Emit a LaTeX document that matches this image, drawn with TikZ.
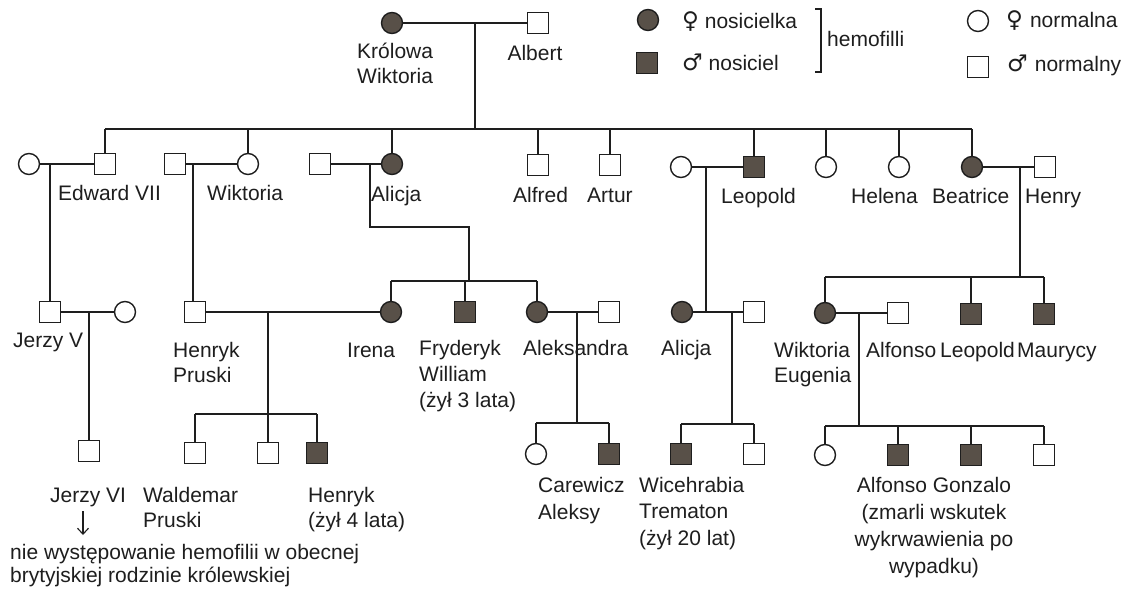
\documentclass[tikz,border=0pt]{standalone}
\usepackage{fontspec}
\setmainfont{Liberation Sans}
\newfontfamily\symfont{DejaVu Sans}
\usetikzlibrary{arrows.meta}
\definecolor{carfill}{RGB}{88,80,72}
\definecolor{ink}{RGB}{30,30,30}
\newcommand{\mlab}[3]{{\fontsize{21}{#1}\selectfont\begin{tabular}[t]{@{}#2@{}}#3\end{tabular}}}
\newcommand{\sexsym}[1]{{\symfont\fontsize{23}{26}\selectfont #1}}
\tikzset{
  male/.style={draw=ink, rectangle, minimum size=20.5pt, inner sep=0pt, line width=1.4pt, fill=white},
  female/.style={draw=ink, circle, minimum size=21pt, inner sep=0pt, line width=1.4pt, fill=white},
  carrier/.style={fill=carfill},
  lbl/.style={inner sep=0pt, text=ink, font=\fontsize{21}{26}\selectfont},
  lnk/.style={draw=ink, line width=1.4pt},
  arr/.style={draw=ink, line width=1.1pt, -{Straight Barb[length=6pt,width=11pt]}}
}
\begin{document}
\begin{tikzpicture}[x=1pt,y=-1pt]
\useasboundingbox[fill=white] (0,0) rectangle (1128,594);

% ---------- generation 1
\node[female,carrier] (qv) at (392,23) {};
\node[male] (alb) at (538,23) {};
\coordinate (m0) at (475,23);
\coordinate (s0) at (475,129);
\node[lbl,anchor=base west] (lqv) at (357,59) {\mlab{25}{l}{Królowa\\Wiktoria}};
\node[lbl,anchor=base] (lalb) at (535,61) {Albert};

% ---------- legend
\node[female,carrier] (lgf) at (648,20) {};
\node[male,carrier] (lgm) at (647,63) {};
\node[lbl,anchor=base west] (tlgf) at (682,29) {\sexsym{♀} nosicielka};
\node[lbl,anchor=base west] (tlgm) at (682,71) {\sexsym{♂} nosiciel};
\coordinate (br1) at (815,9);
\coordinate (br2) at (821,9);
\coordinate (br3) at (821,72);
\coordinate (br4) at (815,72);
\draw[lnk,line width=1.1pt] (br1) -- (br2) -- (br3) -- (br4);
\node[lbl,anchor=base west] (themo) at (827,47) {hemofilli};
\node[female] (lgfn) at (978,21) {};
\node[male] (lgmn) at (978,67) {};
\node[lbl,anchor=base west] (tlgfn) at (1006,28) {\sexsym{♀}\,\,normalna};
\node[lbl,anchor=base west] (tlgmn) at (1007,72) {\sexsym{♂}\,\,normalny};

% ---------- generation 2
\node[female] (ew) at (29,164) {};
\node[male] (ed) at (105,164) {};
\node[male] (wh) at (175,164) {};
\node[female] (wk) at (248,164) {};
\node[male] (ah) at (320,164) {};
\node[female,carrier] (al) at (392,164) {};
\node[male] (af) at (538,165) {};
\node[male] (ar) at (610,165) {};
\node[female] (lw) at (681,167) {};
\node[male,carrier] (lp) at (754,167) {};
\node[female] (un) at (826,167) {};
\node[female] (he) at (899,167) {};
\node[female,carrier] (be) at (972,167) {};
\node[male] (hy) at (1045,167) {};

\node[lbl,anchor=base west] (led) at (58,200) {Edward VII};
\node[lbl,anchor=base west] (lwk) at (207,200) {Wiktoria};
\node[lbl,anchor=base west] (lal) at (371,201) {Alicja};
\node[lbl,anchor=base west] (laf) at (513,202) {Alfred};
\node[lbl,anchor=base west] (lar) at (587,202) {Artur};
\node[lbl,anchor=base west] (llp) at (721,203) {Leopold};
\node[lbl,anchor=base west] (lhe) at (851,203) {Helena};
\node[lbl,anchor=base west] (lbe) at (932,203) {Beatrice};
\node[lbl,anchor=base west] (lhy) at (1025,203) {Henry};

% ---------- generation 3
\node[male] (jv) at (50,312) {};
\node[female] (jvw) at (125,312) {};
\node[male] (hp) at (195,312) {};
\node[female,carrier] (ir) at (391,312) {};
\node[male,carrier] (fw) at (465,312) {};
\node[female,carrier] (ak) at (537,312) {};
\node[male] (akh) at (609,312) {};
\node[female,carrier] (ali) at (682,312) {};
\node[male] (alh) at (754,312) {};
\node[female,carrier] (we) at (825,313) {};
\node[male] (afs) at (898,313) {};
\node[male,carrier] (lp2) at (971,314) {};
\node[male,carrier] (mau) at (1044,314) {};

\node[lbl,anchor=base west] (ljv) at (13,347) {Jerzy V};
\node[lbl,anchor=base west] (lhp) at (173,357) {\mlab{25.5}{l}{Henryk\\Pruski}};
\node[lbl,anchor=base west] (lir) at (347,357) {Irena};
\node[lbl,anchor=base west] (lfw) at (419,355) {\mlab{26}{l}{Fryderyk\\William\\(żył 3 lata)}};
\node[lbl,anchor=base west] (lak) at (523,355) {Aleksandra};
\node[lbl,anchor=base west] (lali) at (661,355) {Alicja};
\node[lbl,anchor=base west] (lwe) at (774,357) {\mlab{25.5}{l}{Wiktoria\\Eugenia}};
\node[lbl,anchor=base west] (lafs) at (866,357) {Alfonso};
\node[lbl,anchor=base west] (llp2) at (940,357) {Leopold};
\node[lbl,anchor=base west] (lmau) at (1017,357) {Maurycy};

% ---------- generation 4
\node[male] (jvi) at (89,451) {};
\node[male] (wal) at (195,453) {};
\node[male] (mid) at (268,453) {};
\node[male,carrier] (hk) at (317,453) {};
\node[female] (ax1) at (536,454) {};
\node[male,carrier] (ax2) at (609,454) {};
\node[male,carrier] (tr) at (681,454) {};
\node[male] (tr2) at (754,454) {};
\node[female] (g1) at (825,455) {};
\node[male,carrier] (g2) at (898,455) {};
\node[male,carrier] (g3) at (971,455) {};
\node[male] (g4) at (1044,455) {};

\node[lbl,anchor=base west] (ljvi) at (50,502) {Jerzy VI};
\node[lbl,anchor=base west] (lwal) at (143,502) {\mlab{25}{l}{Waldemar\\Pruski}};
\node[lbl,anchor=base west] (lhk) at (308,502) {\mlab{25}{l}{Henryk\\(żył 4 lata)}};
\node[lbl,anchor=base west] (lax) at (538,492) {\mlab{27}{l}{Carewicz\\Aleksy}};
\node[lbl,anchor=base west] (ltr) at (639,492) {\mlab{26.5}{l}{Wicehrabia\\Trematon\\(żył 20 lat)}};
\node[lbl,anchor=base] (lg) at (934,492) {\mlab{27.3}{c}{Alfonso Gonzalo\\(zmarli wskutek\\wykrwawienia po\\wypadku)}};
\node[lbl,anchor=base west] (note) at (10,559) {\mlab{23}{l}{nie występowanie hemofilii w obecnej\\brytyjskiej rodzinie królewskiej}};
\coordinate (a1) at (83,511);
\coordinate (a2) at (83,535);
\draw[arr] (a1) -- (a2);

% ---------- connectors gen1 -> gen2
\draw[lnk] (qv) -- (alb);
\draw[lnk] (m0) -- (s0);
\draw[lnk] (ed |- s0) -- (be |- s0);
\foreach \n in {ed,wk,al,af,ar,lp,un,he,be} \draw[lnk] (\n |- s0) -- (\n);

% ---------- marriages gen2
\draw[lnk] (ew) -- (ed);
\draw[lnk] (wh) -- (wk);
\draw[lnk] (ah) -- (al);
\draw[lnk] (lw) -- (lp);
\draw[lnk] (be) -- (hy);

\coordinate (m1) at (50,164);
\draw[lnk] (m1) -- (jv);
\coordinate (m2) at (193,164);
\draw[lnk] (m2) -- (m2 |- hp.north);
\coordinate (m3) at (370,164);
\coordinate (b3) at (469,227);
\coordinate (s3) at (469,281);
\draw[lnk] (m3) |- (b3) -- (s3);
\draw[lnk] (ir |- s3) -- (ak |- s3);
\foreach \n in {ir,fw,ak} \draw[lnk] (\n |- s3) -- (\n);
\coordinate (m4) at (706,167);
\draw[lnk] (m4) -- (m4 |- ali);
\coordinate (m5) at (1020,167);
\coordinate (s5) at (1020,277);
\draw[lnk] (m5) -- (s5);
\draw[lnk] (we |- s5) -- (mau |- s5);
\foreach \n in {we,lp2,mau} \draw[lnk] (\n |- s5) -- (\n);

% ---------- marriages gen3
\draw[lnk] (jv) -- (jvw);
\coordinate (m6) at (89,312);
\draw[lnk] (m6) -- (jvi);
\draw[lnk] (hp) -- (ir);
\coordinate (m7) at (268,312);
\coordinate (s7) at (268,414);
\draw[lnk] (m7) -- (s7);
\draw[lnk] (wal |- s7) -- (hk |- s7);
\foreach \n in {wal,mid,hk} \draw[lnk] (\n |- s7) -- (\n);
\draw[lnk] (ak) -- (akh);
\coordinate (m8) at (577,312);
\coordinate (s8) at (577,423);
\draw[lnk] (m8) -- (s8);
\draw[lnk] (ax1 |- s8) -- (ax2 |- s8);
\foreach \n in {ax1,ax2} \draw[lnk] (\n |- s8) -- (\n);
\draw[lnk] (ali) -- (alh);
\coordinate (m9) at (732,312);
\coordinate (s9) at (732,424);
\draw[lnk] (m9) -- (s9);
\draw[lnk] (tr |- s9) -- (tr2 |- s9);
\foreach \n in {tr,tr2} \draw[lnk] (\n |- s9) -- (\n);
\draw[lnk] (we) -- (afs);
\coordinate (m10) at (859,313);
\coordinate (s10) at (859,426);
\draw[lnk] (m10) -- (s10);
\draw[lnk] (g1 |- s10) -- (g4 |- s10);
\foreach \n in {g1,g2,g3,g4} \draw[lnk] (\n |- s10) -- (\n);
\end{tikzpicture}
\end{document}
